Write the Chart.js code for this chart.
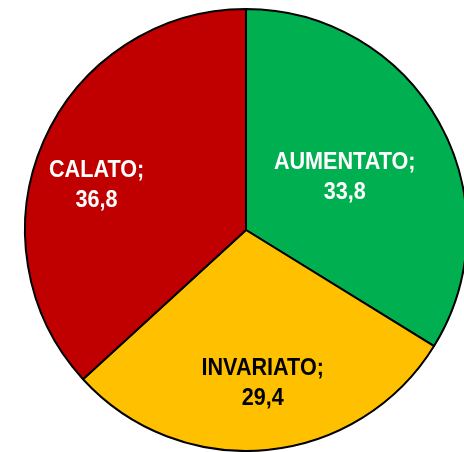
<!DOCTYPE html>
<html>
<head>
<meta charset="utf-8">
<script src="https://cdn.jsdelivr.net/npm/chart.js@4"></script>
<style>
  html, body { margin: 0; padding: 0; background: #fff; overflow: hidden; }
  #wrap { width: 464px; height: 452px; }
</style>
</head>
<body>
<div id="wrap"><canvas id="pieChart" width="464" height="452"></canvas></div>
<script>
var categories = ["AUMENTATO", "INVARIATO", "CALATO"];
var values = [33.8, 29.4, 36.8];
var sliceColors = ["#00B050", "#FFC000", "#C00000"];
var labelColors = ["#FFFFFF", "#000000", "#FFFFFF"];
// where each label sits: share of the radius, and a small turn (degrees) off the slice middle
var labelRadius = [0.505, 0.70, 0.706];
var labelTurn = [1.3, -0.8, -7];

var sliceLabels = {
    id: 'sliceLabels',
    afterDatasetsDraw: function(chart) {
        var ctx = chart.ctx;
        var meta = chart.getDatasetMeta(0);
        ctx.save();
        ctx.font = 'bold 24px "Liberation Sans", Arial, sans-serif';
        ctx.textAlign = 'center';
        ctx.textBaseline = 'middle';
        meta.data.forEach(function(arc, i) {
            var p = arc.getProps(['x', 'y', 'startAngle', 'endAngle', 'outerRadius'], true);
            var mid = (p.startAngle + p.endAngle) / 2 + labelTurn[i] * Math.PI / 180;
            var r = p.outerRadius * labelRadius[i];
            var px = p.x + Math.cos(mid) * r;
            var py = p.y + Math.sin(mid) * r;
            ctx.save();
            ctx.translate(px, py);
            ctx.scale(0.9, 1); // narrow bold look
            ctx.fillStyle = labelColors[i];
            ctx.fillText(categories[i] + ';', 0, -15);
            ctx.fillText(values[i].toFixed(1).replace('.', ','), 0, 15);
            ctx.restore();
        });
        ctx.restore();
    }
};

document.addEventListener('DOMContentLoaded', function() {
    var ctx = document.getElementById('pieChart').getContext('2d');
    new Chart(ctx, {
        type: 'pie',
        data: {
            labels: categories,
            datasets: [{
                data: values,
                backgroundColor: sliceColors,
                borderColor: '#000000',
                borderWidth: 2
            }]
        },
        options: {
            responsive: false,
            animation: false,
            radius: 221,
            layout: {
                padding: { left: 28, right: 0, top: 8, bottom: 0 }
            },
            plugins: {
                legend: { display: false },
                tooltip: { enabled: false }
            }
        },
        plugins: [sliceLabels]
    });
});
</script>
</body>
</html>
